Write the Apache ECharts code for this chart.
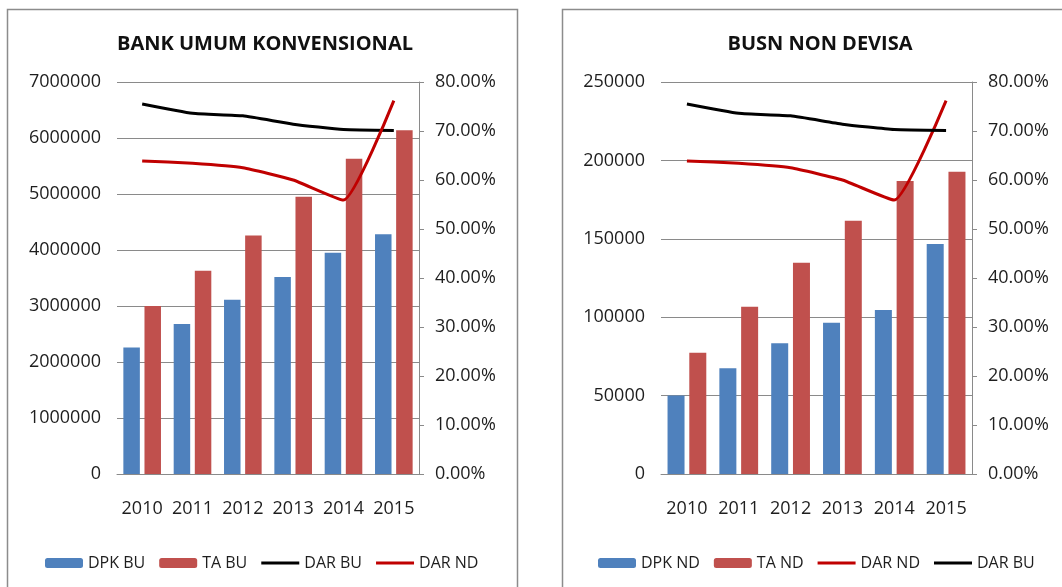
<!DOCTYPE html>
<html style="height: 100%">
<head>
    <meta charset="utf-8">
</head>
<body style="height: 100%; margin: 0; background: #fff">
<div id="container" style="width: 1062px; height: 587px"></div>
<script type="text/javascript" src="https://cdn.jsdelivr.net/npm/echarts@6/dist/echarts.min.js"></script>
<script type="text/javascript">
    var dom = document.getElementById("container");
    var myChart = echarts.init(dom);

    // years on the x axis
    var years = ['2010', '2011', '2012', '2013', '2014', '2015'];

    // Bank Umum Konvensional
    var dpkBU = [2260000, 2680000, 3110000, 3520000, 3950000, 4280000];
    var taBU = [3000000, 3630000, 4260000, 4950000, 5630000, 6140000];

    // BUSN Non Devisa
    var dpkND = [50000, 67400, 83400, 96500, 104600, 146700];
    var taND = [77400, 106700, 134800, 161500, 186900, 192800];

    // ratios (right axis)
    var darBU = [0.755, 0.736, 0.731, 0.714, 0.703, 0.701];
    var darND = [0.639, 0.634, 0.625, 0.600, 0.559, 0.762];

    var textColor = '#1e1e1e';
    var gridColor = '#8a8a8a';
    var font = 'Open Sans';
    // legend icon for the line series: a plain thick stroke
    var lineIcon = 'path://M0,0L38,0L38,3L0,3Z';

    function pct(v) {
        return (v * 100).toFixed(2) + '%';
    }

    function plain(v) {
        return String(v);
    }

    function leftAxis(gridIndex, max, interval) {
        return {
            type: 'value', gridIndex: gridIndex, position: 'left',
            min: 0, max: max, interval: interval,
            axisLine: {show: false},
            axisTick: {show: false},
            axisLabel: {margin: 16, color: textColor, fontFamily: font, fontSize: 18, formatter: plain},
            splitLine: {lineStyle: {color: gridColor, width: 1}}
        };
    }

    function rightAxis(gridIndex) {
        return {
            type: 'value', gridIndex: gridIndex, position: 'right',
            min: 0, max: 0.8, interval: 0.1,
            axisLine: {show: true, lineStyle: {color: gridColor, width: 1}},
            axisTick: {show: true, length: 5, lineStyle: {color: gridColor}},
            axisLabel: {margin: 16, color: textColor, fontFamily: font, fontSize: 18, formatter: pct},
            splitLine: {show: false}
        };
    }

    function catAxis(gridIndex) {
        return {
            type: 'category', gridIndex: gridIndex, data: years,
            axisLine: {lineStyle: {color: gridColor, width: 1}},
            axisTick: {show: false},
            axisLabel: {interval: 0, margin: 26, color: textColor, fontFamily: font, fontSize: 18}
        };
    }

    function barSeries(name, data, color, idx, width) {
        return {
            type: 'bar', name: name, data: data,
            xAxisIndex: idx, yAxisIndex: idx * 2,
            barWidth: width, barGap: '28%',
            itemStyle: {color: color},
            animation: false
        };
    }

    function lineSeries(name, data, color, idx) {
        return {
            type: 'line', name: name, data: data,
            xAxisIndex: idx, yAxisIndex: idx * 2 + 1,
            symbol: 'none', smooth: 0.15,
            lineStyle: {color: color, width: 3},
            itemStyle: {color: color},
            z: 5,
            animation: false
        };
    }

    var legendText = {color: textColor, fontFamily: font, fontSize: 16};

    var option = {
        backgroundColor: '#fff',
        title: [{
            text: 'BANK UMUM KONVENSIONAL', left: 260, top: 29, textAlign: 'center',
            textStyle: {fontFamily: font, fontWeight: 'bold', fontSize: 20, color: '#111'}
        }, {
            text: 'BUSN NON DEVISA', left: 815, top: 29, textAlign: 'center',
            textStyle: {fontFamily: font, fontWeight: 'bold', fontSize: 20, color: '#111'}
        }],
        legend: [{
            data: [{name: 'DPK BU'}, {name: 'TA BU'},
                {name: 'DAR BU', icon: lineIcon}, {name: 'DAR ND', icon: lineIcon}],
            left: 45, top: 555, padding: 0, itemWidth: 38, itemHeight: 10, itemGap: 14,
            textStyle: legendText
        }, {
            data: [{name: 'DPK ND'}, {name: 'TA ND'},
                {name: 'DAR ND', icon: lineIcon}, {name: 'DAR BU', icon: lineIcon}],
            left: 598, top: 555, padding: 0, itemWidth: 38, itemHeight: 10, itemGap: 14,
            textStyle: legendText
        }],
        grid: [
            {left: 117, right: 643, top: 82, bottom: 113},
            {left: 661, right: 90, top: 82, bottom: 113}
        ],
        xAxis: [catAxis(0), catAxis(1)],
        yAxis: [
            leftAxis(0, 7000000, 1000000), rightAxis(0),
            leftAxis(1, 250000, 50000), rightAxis(1)
        ],
        graphic: [{
            type: 'rect', silent: true, z: -1,
            shape: {x: 7.5, y: 9.5, width: 510, height: 620},
            style: {fill: null, stroke: '#8c8c8c', lineWidth: 1.5}
        }, {
            type: 'rect', silent: true, z: -1,
            shape: {x: 562.5, y: 9.5, width: 520, height: 620},
            style: {fill: null, stroke: '#8c8c8c', lineWidth: 1.5}
        }],
        series: [
            barSeries('DPK BU', dpkBU, '#4f81bd', 0, 16.5),
            barSeries('TA BU', taBU, '#c0504d', 0, 16.5),
            lineSeries('DAR BU', darBU, '#000000', 0),
            lineSeries('DAR ND', darND, '#c00000', 0),
            barSeries('DPK ND', dpkND, '#4f81bd', 1, 17),
            barSeries('TA ND', taND, '#c0504d', 1, 17),
            lineSeries('DAR ND', darND, '#c00000', 1),
            lineSeries('DAR BU', darBU, '#000000', 1)
        ]
    };
    if (option && typeof option === "object") {
        myChart.setOption(option, true);
    }
</script>
</body>
</html>
